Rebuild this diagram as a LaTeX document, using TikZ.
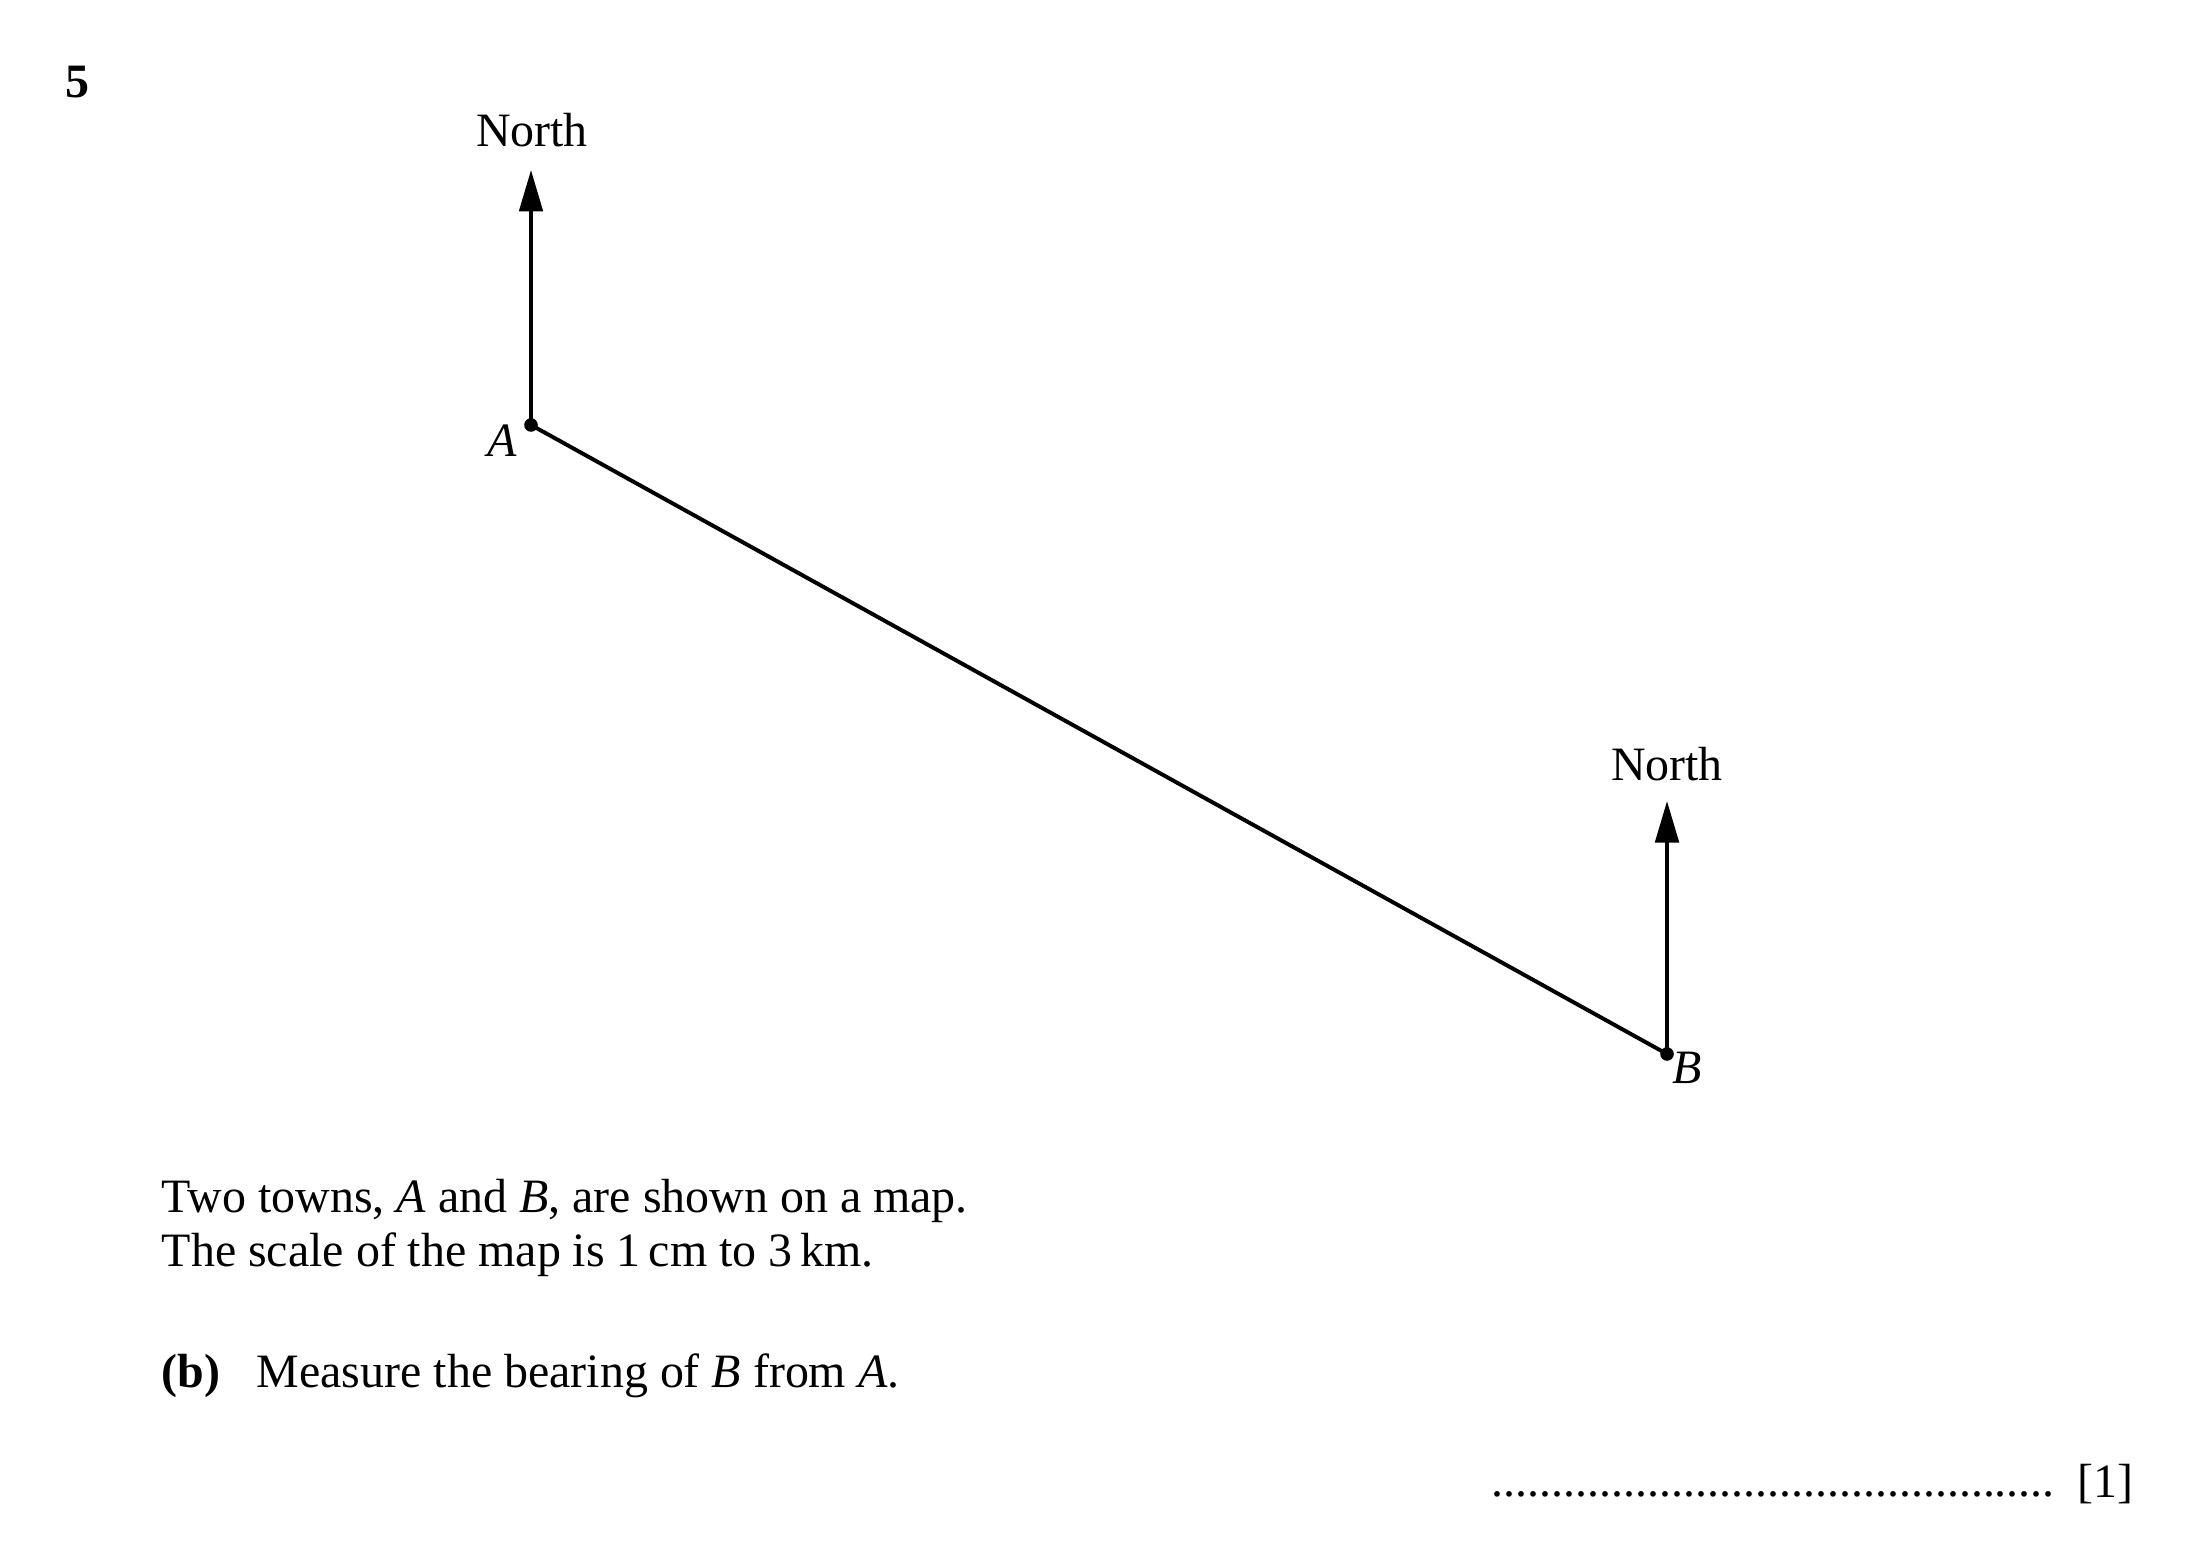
\documentclass[tikz,border=0pt]{standalone}
\usepackage{fontspec}
\setmainfont{Liberation Serif}
\usetikzlibrary{arrows.meta}
\begin{document}
\begin{tikzpicture}[x=0.265pt,y=-0.265pt,
  txt/.style={inner sep=0pt,font=\fontsize{12.7}{15}\selectfont},
  northarrow/.style={line width=1.05pt,-{Triangle[length=11pt,width=6.2pt]}},
  seg/.style={line width=1.05pt},
  pt/.style={circle,fill=black,inner sep=0pt,minimum size=3.6pt}]
\useasboundingbox (0,0) rectangle (2196,1565);
% question number
\node[txt,anchor=base,font=\fontsize{12.7}{15}\selectfont\bfseries] (qn) at (77,98) {5};
% points
\node[pt] (A) at (531,425) {};
\node[pt] (B) at (1667,1054) {};
\coordinate (NA) at (531,170);
\coordinate (NB) at (1667,801);
\draw[seg] (A.center) -- (B.center);
\draw[northarrow] (A.center) -- (NA);
\draw[northarrow] (B.center) -- (NB);
\node[txt,anchor=base] (northA) at (532,147) {North};
\node[txt,anchor=base] (northB) at (1667,781) {North};
\node[txt,anchor=base] (labA) at (502,457) {\itshape A};
\node[txt,anchor=base] (labB) at (1687,1083) {\itshape B};
% text
\node[txt,anchor=base west] (l1) at (161,1212) {Two towns, \textit{A} and \textit{B}, are shown on a map.};
\node[txt,anchor=base west] (l2) at (161,1266) {The scale of the map is 1\,cm to 3\,km.};
\node[txt,anchor=base west] (pb) at (161,1387) {\bfseries (b)};
\node[txt,anchor=base west] (l3) at (256,1387) {Measure the bearing of \textit{B} from \textit{A}.};
\node[txt,anchor=base west] (dots) at (1491,1496) {...............................................};
\node[txt,anchor=base west] (mark) at (2077,1497) {[1]};
\end{tikzpicture}
\end{document}
